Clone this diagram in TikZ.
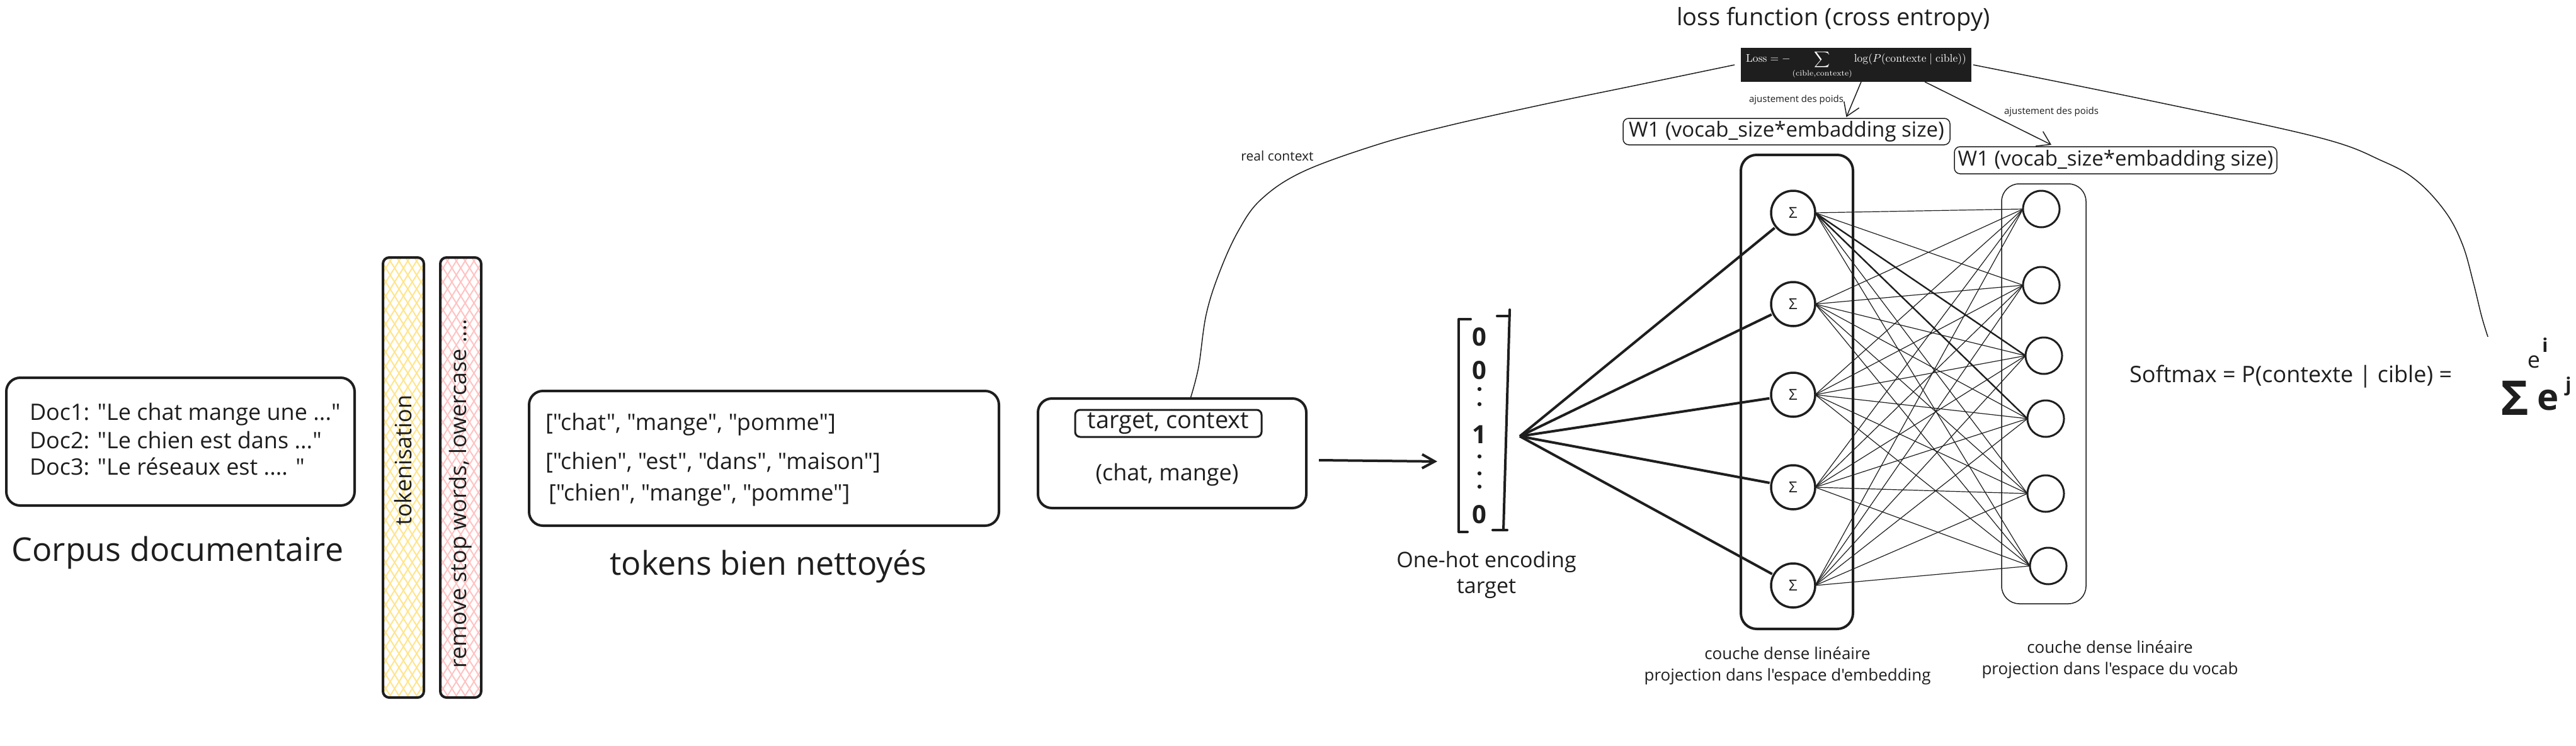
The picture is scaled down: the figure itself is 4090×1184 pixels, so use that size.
\documentclass[tikz,border=0pt]{standalone}
\usepackage{amsmath}
\usepackage{fontspec}
\newfontfamily\hand{Open Sans}
\usetikzlibrary{arrows.meta}
\definecolor{ink}{HTML}{1E1E1E}
\definecolor{hyel}{HTML}{FFE58A}
\definecolor{hpink}{HTML}{FFC2C2}
\begin{document}
\begin{tikzpicture}[x=1pt,y=-1pt,
  every node/.style={text=ink, inner sep=0pt, outer sep=0pt},
  lab/.style={font=\hand\fontsize{#1}{#1}\selectfont},
  rbox/.style={draw=ink, line width=4pt, rounded corners=22pt},
  wbox/.style={draw=ink, line width=1.5pt, rounded corners=9pt},
  signode/.style={circle, draw=ink, line width=3.5pt, minimum size=70pt, font=\hand\fontsize{24}{24}\selectfont},
  vocnode/.style={circle, draw=ink, line width=3pt, minimum size=58pt},
  fan/.style={draw=ink, line width=4pt, shorten >=3pt},
  dense/.style={draw=ink, line width=1.2pt},
  thinc/.style={draw=ink, line width=1.5pt},
  barb/.style={-{Straight Barb[length=20pt,width=26pt]}},
  hatchY/.style={draw=hyel, line width=2pt},
  hatchP/.style={draw=hpink, line width=2pt},
]
\fill[white] (0,0) rectangle (4090,1184);
\useasboundingbox (0,0) rectangle (4090,1184);

% ---------- corpus ----------
\node[rbox, minimum width=553pt, minimum height=203pt] (docbox) at (286.5,701.5) {};
\node[lab=36, anchor=base west] (doc1) at (47,667) {Doc1: "Le chat mange une ..."};
\node[lab=36, anchor=base west] (doc2) at (47,712) {Doc2: "Le chien est dans ..."};
\node[lab=36, anchor=base west] (doc3) at (47,754) {Doc3: "Le réseaux est .... "};
\node[lab=52] (corpus) at (282,878) {Corpus documentaire};

% ---------- hatched bars ----------
\begin{scope}
\clip[rounded corners=10pt] (608,409) rectangle (673,1108);
\foreach \k in {0,...,40} {
  \draw[hatchY] ({608-440+\k*14},409) -- ++(440,700);
  \draw[hatchY] ({673+440-\k*14},409) -- ++(-440,700);
}
\end{scope}
\begin{scope}
\clip[rounded corners=10pt] (699,409) rectangle (764,1108);
\foreach \k in {0,...,40} {
  \draw[hatchP] ({699-440+\k*14},409) -- ++(440,700);
  \draw[hatchP] ({764+440-\k*14},409) -- ++(-440,700);
}
\end{scope}
\node[rbox, rounded corners=10pt, minimum width=65pt, minimum height=699pt] (tokbar) at (640.5,758.5) {};
\node[rbox, rounded corners=10pt, minimum width=65pt, minimum height=699pt] (rembar) at (731.5,758.5) {};
\node[lab=36, rotate=90] (toktxt) at (640,731) {tokenisation};
\node[lab=36, rotate=90] (remtxt) at (731,784) {remove stop words, lowercase ....};

% ---------- tokens ----------
\node[rbox, minimum width=746pt, minimum height=214pt] (tokbox) at (1213,728) {};
\node[lab=36, anchor=base west] (tk1) at (866,683) {["chat", "mange", "pomme"]};
\node[lab=36, anchor=base west] (tk2) at (866,745) {["chien", "est", "dans", "maison"]};
\node[lab=36, anchor=base west] (tk3) at (871,795) {["chien", "mange", "pomme"]};
\node[lab=52, anchor=base] (tokcap) at (1220,913) {tokens bien nettoyés};

% ---------- target/context ----------
\node[rbox, minimum width=426pt, minimum height=174pt] (tgtbox) at (1861,720) {};
\node[draw=ink, line width=3pt, rounded corners=8pt, minimum width=296pt, minimum height=43pt, lab=38] (tcbox) at (1855,672.5) {target, context};
\node[lab=36, anchor=base] (pair) at (1853,763) {(chat, mange)};
\coordinate (arrE) at (2282,733);
\draw[draw=ink, line width=4pt, -{Straight Barb[length=20pt,width=22pt]}] ([xshift=20pt,yshift=-11pt]tgtbox.east) -- (arrE);

% ---------- one-hot vector ----------
\draw[ink, line width=4pt, line cap=round, line join=round] (2335,507) -- (2316,507) -- (2316,845) -- (2330,845);
\draw[ink, line width=4pt, line cap=round] (2377,502) -- (2397,502);
\draw[ink, line width=4pt, line cap=round] (2397,492) -- (2387,842);
\draw[ink, line width=4pt, line cap=round] (2370,842) -- (2393,842);
\node[font=\hand\bfseries\fontsize{40}{40}\selectfont] (d1) at (2349,535) {0};
\node[font=\hand\bfseries\fontsize{40}{40}\selectfont] (d2) at (2349,588) {0};
\node[font=\hand\bfseries\fontsize{40}{40}\selectfont] (d3) at (2349,690) {1};
\node[font=\hand\bfseries\fontsize{40}{40}\selectfont] (d4) at (2349,817) {0};
\foreach \yy in {618,642,725,752,773} \fill[ink] (2349,\yy) circle (3.2pt);
\node[lab=34] (oh1) at (2360,893) {One-hot encoding};
\node[lab=34] (oh2) at (2360,935) {target};
\coordinate (fanpt) at (2413,693);

% ---------- embedding layer ----------
\node[rbox, rounded corners=25pt, minimum width=178pt, minimum height=753pt] (embbox) at (2853,622.5) {};
\node[signode] (s1) at (2847,338) {Σ};
\node[signode] (s2) at (2847,483) {Σ};
\node[signode] (s3) at (2847,627) {Σ};
\node[signode] (s4) at (2847,774) {Σ};
\node[signode] (s5) at (2847,930) {Σ};
\foreach \i in {1,...,5} \draw[fan] (fanpt) -- (s\i);

% ---------- vocab layer ----------
\node[draw=ink, line width=1.5pt, rounded corners=28pt, minimum width=134pt, minimum height=667pt] (vocbox) at (3245,625.5) {};
\node[vocnode] (v1) at (3241,332) {};
\node[vocnode] (v2) at (3241,453) {};
\node[vocnode] (v3) at (3245,565) {};
\node[vocnode] (v4) at (3248,665) {};
\node[vocnode] (v5) at (3248,784) {};
\node[vocnode] (v6) at (3252,899) {};
\foreach \i in {1,...,5} \foreach \j in {1,...,6} \draw[dense] (s\i.east) -- (v\j.west);
\draw[draw=ink, line width=2.4pt] (s1.east) -- (v3.west);
\draw[draw=ink, line width=2.4pt] (s1.east) -- (v4.west);

\node[lab=26] (c1a) at (2838,1038) {couche dense linéaire};
\node[lab=26] (c1b) at (2838,1075) {projection dans l'espace d'embedding};
\node[lab=26] (c2a) at (3350,1028) {couche dense linéaire};
\node[lab=26] (c2b) at (3350,1065) {projection dans l'espace du vocab};

% ---------- W1 labels ----------
\node[wbox, minimum width=519pt, minimum height=42pt, lab=33] (w1a) at (2836.5,209) {W1 (vocab\_size*embadding size)};
\node[wbox, minimum width=512pt, minimum height=43pt, lab=33] (w1b) at (3359,254.5) {W1 (vocab\_size*embadding size)};

% ---------- loss ----------
\node[lab=38] (losstitle) at (2911,31) {loss function (cross entropy)};
\node[fill=ink, minimum width=366pt, minimum height=54pt, text=white] (loss) at (2947,103)
  {\resizebox{350pt}{!}{$\displaystyle \mathrm{Loss} = -\sum_{(\mathrm{cible},\mathrm{contexte})} \log(P(\mathrm{contexte}\mid \mathrm{cible}))$}};
\draw[thinc, barb] ([xshift=8pt]loss.south) -- ([xshift=95pt,yshift=2pt]w1a.north);
\draw[thinc, barb] ([xshift=109pt]loss.south) -- ([xshift=-102pt,yshift=3pt]w1b.north);
\node[lab=15] (adj1) at (2852,159) {ajustement des poids};
\node[lab=15] (adj2) at (3257,178) {ajustement des poids};

% real context curve
\coordinate (lc0) at ([xshift=-10pt]loss.west);
\coordinate (lcE) at ([xshift=29pt]tgtbox.north);
\draw[thinc] plot[smooth, tension=0.6] coordinates {(lc0) (2600,135) (2450,166) (2298,200) (2186,230) (2068,273) (2002,317) (1966,367) (1936,433) (1915,500) (1903,583) (lcE)};
\node[lab=21] (realctx) at (2028,248) {real context};

% softmax curve
\coordinate (rc0) at ([xshift=3pt]loss.east);
\coordinate (rcE) at (3950,535);
\draw[thinc] plot[smooth, tension=0.6] coordinates {(rc0) (3400,157) (3680,218) (3783,256) (3837,287) (3883,337) (3910,389) (3927,449) (3940,502) (rcE)};

% ---------- softmax ----------
\node[lab=36, anchor=base west] (softmax) at (3381,607) {Softmax = P(contexte | cible) =};
\node[lab=36] (ei) at (4023,575) {e};
\node[font=\hand\bfseries\fontsize{30}{30}\selectfont] (ii) at (4041,548) {i};
\node[font=\hand\bfseries\fontsize{76}{76}\selectfont] (bigsig) at (3993,632) {Σ};
\node[font=\hand\bfseries\fontsize{58}{58}\selectfont] (bige) at (4046,636) {e};
\node[font=\hand\bfseries\fontsize{30}{30}\selectfont] (jj) at (4078,614) {j};
\end{tikzpicture}
\end{document}
